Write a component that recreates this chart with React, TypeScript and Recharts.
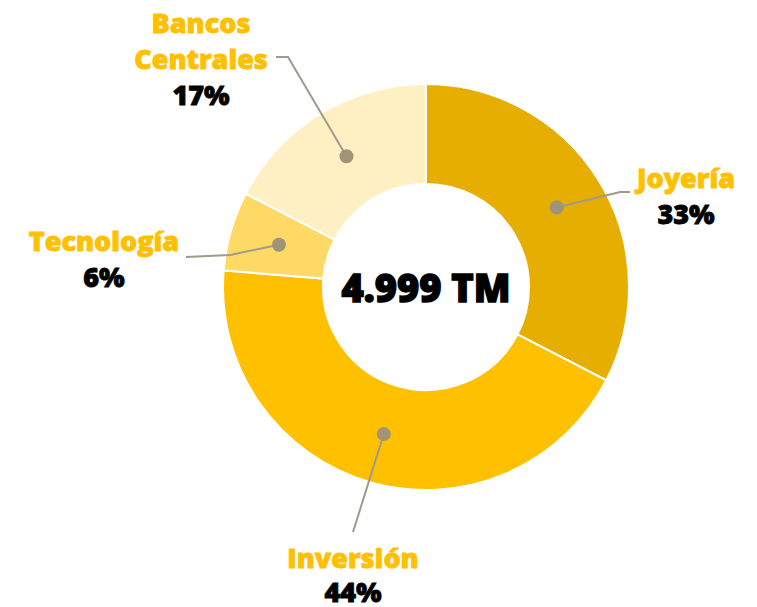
import { PieChart, Pie, Cell } from "recharts";

const categories = ["Joyería", "Inversión", "Tecnología", "Bancos Centrales"];
const shares = [32.6, 43.7, 6.3, 17.4];
const sliceColors = ["#E6AE00", "#FFC000", "#FFD966", "#FFF0C3"];
const totalLabel = "4.999 TM";

const data = categories.map((name, i) => ({ name, value: shares[i] }));

// label placement relative to the pie centre (picked by hand, like the original slide)
const labelLayout = [
  { lines: ["Joyería"], tx: 260, ty: -110, path: [[194, -95], [204, -95]] },
  { lines: ["Inversión"], tx: -73, ty: 270, path: [[-73, 245]] },
  { lines: ["Tecnología"], tx: -322, ty: -47, path: [[-196, -32], [-240, -30]] },
  { lines: ["Bancos", "Centrales"], tx: -225, ty: -265, path: [[-138, -230], [-150, -230]] },
];

const RAD = Math.PI / 180;
const font = "'Open Sans', sans-serif";

function renderLabel(props: any) {
  const { cx, cy, midAngle, innerRadius, outerRadius, index, percent } = props;
  const r = (innerRadius + outerRadius) / 2;
  const dx = cx + r * Math.cos(-midAngle * RAD);
  const dy = cy + r * Math.sin(-midAngle * RAD);
  const lay = labelLayout[index];
  const pts = [[dx, dy], ...lay.path.map(([x, y]) => [cx + x, cy + y])];
  const d = pts.map((p, i) => `${i ? "L" : "M"}${p[0]},${p[1]}`).join(" ");
  const lineH = 36;
  const textProps = {
    textAnchor: "middle" as const,
    dominantBaseline: "central" as const,
    fontFamily: font,
    fontWeight: 800,
    fontSize: 27,
    strokeWidth: 0.8,
  };
  return (
    <g key={`lbl-${index}`}>
      <path d={d} stroke="#A09A8C" strokeWidth={2} fill="none" />
      <circle cx={dx} cy={dy} r={7} fill="#A09478" />
      {lay.lines.map((t, i) => (
        <text
          key={t}
          x={cx + lay.tx}
          y={cy + lay.ty + i * lineH}
          fill="#FFC000"
          stroke="#FFC000"
          {...textProps}
        >
          {t}
        </text>
      ))}
      <text
        x={cx + lay.tx}
        y={cy + lay.ty + lay.lines.length * lineH - (index === 1 ? 2 : 0)}
        fill="#000"
        stroke="#000"
        {...textProps}
      >
        {`${Math.round(percent * 100)}%`}
      </text>
      {index === 0 && (
        <text
          x={cx}
          y={cy}
          textAnchor="middle"
          dominantBaseline="central"
          fill="#000"
          stroke="#000"
          strokeWidth={1.4}
          fontFamily={font}
          fontWeight={800}
          fontSize={38}
        >
          {totalLabel}
        </text>
      )}
    </g>
  );
}

export default function App() {
  return (
    <div style={{ position: "absolute", left: 0, top: 0, width: 757, height: 607, background: "#fff" }}>
      <PieChart width={757} height={607} margin={{ top: 0, right: 0, bottom: 0, left: 0 }}>
        <Pie
          data={data}
          dataKey="value"
          nameKey="name"
          cx={426}
          cy={287}
          innerRadius={103}
          outerRadius={203}
          startAngle={90}
          endAngle={-270}
          stroke="#fff"
          strokeWidth={2}
          label={renderLabel}
          labelLine={false}
          isAnimationActive={false}
        >
          {data.map((d, i) => (
            <Cell key={d.name} fill={sliceColors[i]} />
          ))}
        </Pie>
      </PieChart>
    </div>
  );
}
